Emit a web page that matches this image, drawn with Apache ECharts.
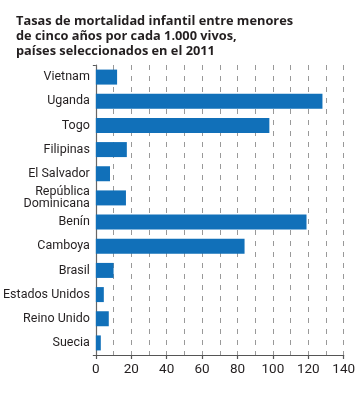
<!DOCTYPE html>
<html>
<head>
<meta charset="utf-8">
<script src="https://cdn.jsdelivr.net/npm/echarts@6/dist/echarts.min.js"></script>
<style>
html,body{margin:0;padding:0;background:#fff;}
#chart{width:364px;height:394px;}
</style>
</head>
<body>
<div id="chart"></div>
<script>
const titleText = 'Tasas de mortalidad infantil entre menores\nde cinco años por cada 1.000 vivos,\npaíses seleccionados en el 2011';
const categories = ['Vietnam','Uganda','Togo','Filipinas','El Salvador','República\nDominicana','Benín','Camboya','Brasil','Estados Unidos','Reino Unido','Suecia'];
const values = [12, 128, 98, 17.5, 8, 17, 119, 84, 10, 4.5, 7.3, 2.8];
const xMin = 0, xMax = 140, xStep = 20;

const chart = echarts.init(document.getElementById('chart'));
chart.setOption({
  animation: false,
  title: {
    text: titleText,
    left: 11, top: 9,
    textStyle: {fontFamily: 'Open Sans', fontWeight: 'bold', fontSize: 12.8, lineHeight: 15, color: '#231f20'}
  },
  grid: {left: 95.5, right: 20.3, top: 65, bottom: 39, containLabel: false},
  xAxis: {
    type: 'value', min: xMin, max: xMax, interval: xStep,
    axisLine: {show: true, lineStyle: {color: '#555', width: 1.2}},
    axisTick: {show: true, length: 4, lineStyle: {color: '#555', width: 1.2}},
    axisLabel: {fontFamily: 'Roboto', fontSize: 13.5, color: '#231f20', margin: 8},
    splitLine: {show: true, lineStyle: {color: '#999', type: [5, 6], width: 1}},
    minorTick: {show: false, splitNumber: 2},
    minorSplitLine: {show: true, lineStyle: {color: '#999', type: [5, 6], width: 1}}
  },
  yAxis: {
    type: 'category', data: categories, inverse: true,
    axisLine: {show: true, lineStyle: {color: '#666', width: 1.2}},
    axisTick: {show: true, length: 3, interval: function (i) { return i === 0; }, lineStyle: {color: '#555'}},
    axisLabel: {fontFamily: 'Roboto', fontSize: 12.5, lineHeight: 12, color: '#231f20', margin: 6}
  },
  series: [{
    type: 'bar', data: values, barWidth: 15,
    itemStyle: {color: '#1170b9'}
  }]
});
</script>
</body>
</html>
